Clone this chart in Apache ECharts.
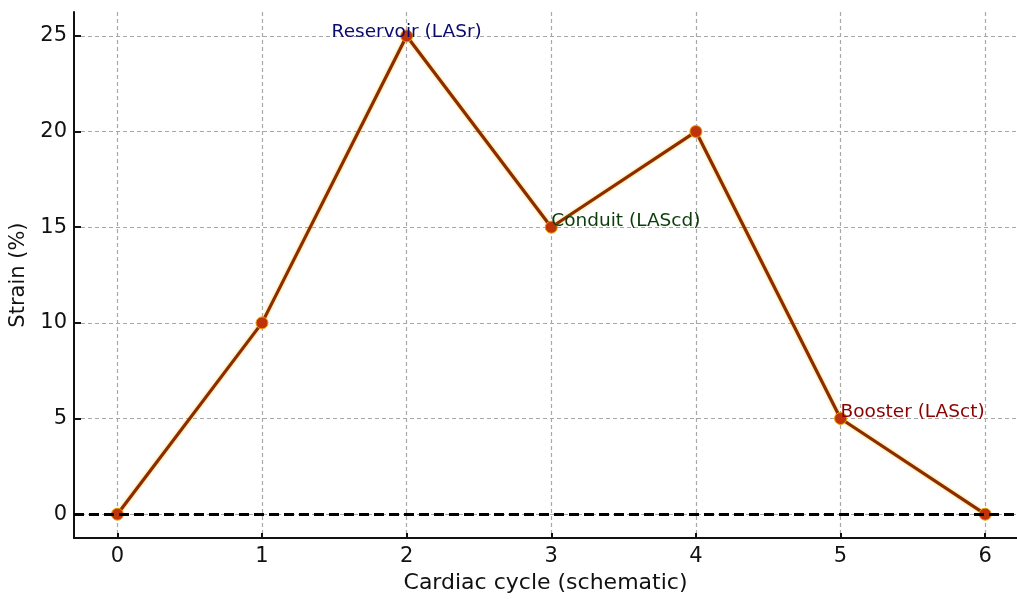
<!DOCTYPE html>
<html>
<head>
<meta charset="utf-8">
<script src="https://cdn.jsdelivr.net/npm/echarts@6/dist/echarts.min.js"></script>
<style>html,body{margin:0;padding:0;background:#fff;}#c{width:1017px;height:599px;}</style>
</head>
<body>
<div id="c"></div>
<script>
const xValues = [0, 1, 2, 3, 4, 5, 6];
const strain = [0, 10, 25, 15, 20, 5, 0];
const xTicks = [0, 1, 2, 3, 4, 5, 6];
const yTicks = [0, 5, 10, 15, 20, 25];
const annotationText = ['Reservoir (LASr)', 'Conduit (LAScd)', 'Booster (LASct)'];
const annotationIndex = [2, 3, 5];

const FONT = 'DejaVu Sans';
const annoStyles = [
  {color: '#0a0a6e', position: 'top', offset: [0, 6]},
  {color: '#0b3d0b', position: 'right', offset: [0, -6]},
  {color: '#8b0000', position: 'right', offset: [0, -6]}
];

const chart = echarts.init(document.getElementById('c'), null, {renderer: 'canvas'});
const gridLine = {show: true, lineStyle: {color: '#a8a8a8', type: [4, 3], width: 1.2}};

chart.setOption({
  animation: false,
  backgroundColor: '#fff',
  grid: {left: 74, right: 0, top: 12, bottom: 56},
  xAxis: {
    type: 'value', min: -0.3, max: 6.22,
    name: 'Cardiac cycle (schematic)', nameLocation: 'middle', nameGap: 33,
    nameTextStyle: {fontFamily: FONT, fontSize: 22, color: '#111'},
    axisLine: {show: true, onZero: false, lineStyle: {color: '#111', width: 2}},
    axisTick: {show: true, inside: true, length: 5, customValues: xTicks, lineStyle: {color: '#111', width: 2}},
    axisLabel: {customValues: xTicks, fontFamily: FONT, fontSize: 21, color: '#111', margin: 8},
    splitLine: gridLine
  },
  yAxis: {
    type: 'value', min: -1.25, max: 26.25,
    name: 'Strain (%)', nameLocation: 'middle', nameGap: 41, nameRotate: 90,
    nameTextStyle: {fontFamily: FONT, fontSize: 21, color: '#111'},
    axisLine: {show: true, onZero: false, lineStyle: {color: '#111', width: 2}},
    axisTick: {show: true, inside: true, length: 7, customValues: yTicks, lineStyle: {color: '#111', width: 2}},
    axisLabel: {customValues: yTicks, fontFamily: FONT, fontSize: 21, color: '#111', margin: 7},
    splitLine: gridLine
  },
  series: [{
    type: 'line',
    data: xValues.map((x, i) => [x, strain[i]]),
    symbol: 'circle', symbolSize: 12,
    lineStyle: {color: '#8e2c00', width: 3.2, shadowColor: 'rgba(240,190,0,0.7)', shadowBlur: 3},
    itemStyle: {color: '#c0330a', borderColor: '#e8a000', borderWidth: 1},
    z: 3,
    markLine: {
      silent: true, symbol: 'none',
      lineStyle: {color: '#000', type: [10, 5], width: 3},
      label: {show: false},
      data: [{yAxis: 0}]
    },
    markPoint: {
      symbol: 'circle', symbolSize: 0,
      data: annotationIndex.map((idx, k) => ({
        coord: [xValues[idx], strain[idx]],
        label: {
          show: true, formatter: annotationText[k],
          position: annoStyles[k].position, distance: 0, offset: annoStyles[k].offset,
          color: annoStyles[k].color, fontFamily: FONT, fontSize: 18.5
        }
      }))
    }
  }]
});
</script>
</body>
</html>
